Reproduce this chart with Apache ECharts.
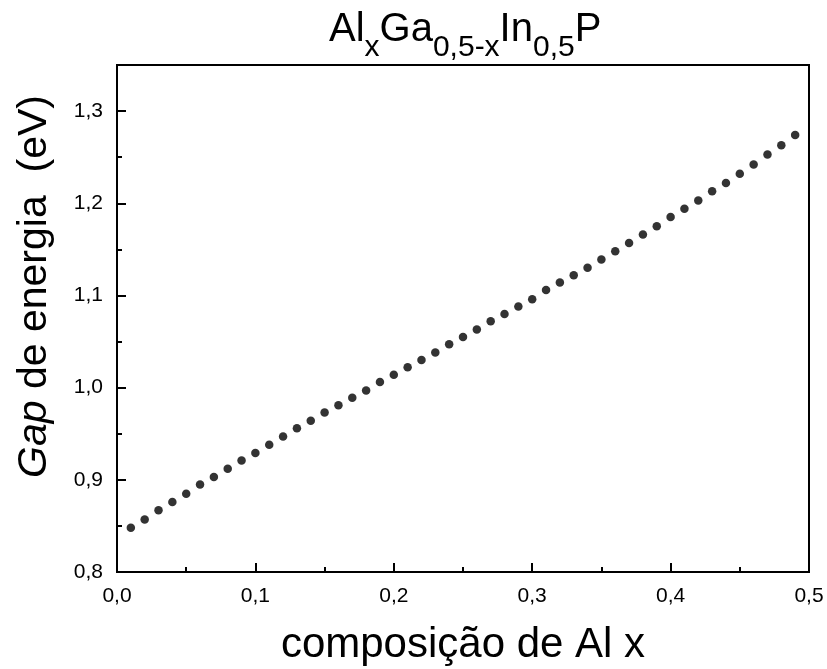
<!DOCTYPE html>
<html>
<head>
<meta charset="utf-8">
<script src="https://cdn.jsdelivr.net/npm/echarts@6/dist/echarts.min.js"></script>
<style>
  html, body { margin: 0; padding: 0; background: #fff; }
  #chart { width: 827px; height: 669px; }
</style>
</head>
<body>
<div id="chart"></div>
<script>
// Aluminium composition x of AlxGa(0.5-x)In0.5P
const composition = [
  0.01, 0.02, 0.03, 0.04, 0.05, 0.06, 0.07, 0.08, 0.09, 0.10,
  0.11, 0.12, 0.13, 0.14, 0.15, 0.16, 0.17, 0.18, 0.19, 0.20,
  0.21, 0.22, 0.23, 0.24, 0.25, 0.26, 0.27, 0.28, 0.29, 0.30,
  0.31, 0.32, 0.33, 0.34, 0.35, 0.36, 0.37, 0.38, 0.39, 0.40,
  0.41, 0.42, 0.43, 0.44, 0.45, 0.46, 0.47, 0.48, 0.49
];

// Energy gap (eV) for each composition
const energyGap = [
  0.848, 0.857, 0.867, 0.876, 0.885, 0.895, 0.903, 0.912, 0.921, 0.929,
  0.938, 0.947, 0.956, 0.964, 0.973, 0.981, 0.989, 0.997, 1.006, 1.014,
  1.022, 1.030, 1.038, 1.047, 1.055, 1.063, 1.072, 1.080, 1.088, 1.096,
  1.106, 1.114, 1.122, 1.130, 1.139, 1.148, 1.157, 1.166, 1.175, 1.185,
  1.194, 1.203, 1.213, 1.222, 1.232, 1.242, 1.253, 1.263, 1.274
];

// Axis tick values
const xTicks = [0.0, 0.1, 0.2, 0.3, 0.4, 0.5];
const yTicks = [0.8, 0.9, 1.0, 1.1, 1.2, 1.3];

const FONT = '"Liberation Sans", Arial, Helvetica, sans-serif';
const comma = v => v.toFixed(1).replace('.', ',');
const onTick = (list, v) => list.some(t => Math.abs(t - v) < 1e-9);

const chart = echarts.init(document.getElementById('chart'), null, { renderer: 'canvas' });

chart.setOption({
  backgroundColor: '#ffffff',
  animation: false,
  title: {
    text: '{m|Al}{s|x}{m|Ga}{s|0,5-x}{m|In}{s|0,5}{m|P}',
    left: 324,
    top: -8,
    textStyle: {
      fontWeight: 'normal',
      rich: {
        m: { fontFamily: FONT, fontSize: 40, fontWeight: 'normal', color: '#000', lineHeight: 66, verticalAlign: 'middle' },
        s: { fontFamily: FONT, fontSize: 30, fontWeight: 'normal', color: '#000', lineHeight: 30, verticalAlign: 'bottom' }
      }
    }
  },
  grid: {
    left: 117, right: 18, top: 65, bottom: 97,
    outerBoundsMode: 'none',
    containLabel: false,
    show: true,
    borderColor: '#000',
    borderWidth: 2,
    backgroundColor: 'transparent'
  },
  xAxis: {
    type: 'value',
    min: xTicks[0],
    max: xTicks[xTicks.length - 1],
    interval: 0.1,
    name: 'composição de Al x',
    nameLocation: 'middle',
    nameGap: 52,
    nameTextStyle: { fontFamily: FONT, fontSize: 42, color: '#000' },
    axisLine: { show: true, lineStyle: { color: '#000', width: 2 } },
    axisTick: { show: true, inside: true, length: 9, lineStyle: { color: '#000', width: 2 } },
    minorTick: { show: true, splitNumber: 2, length: 5, lineStyle: { color: '#000', width: 2 } },
    splitLine: { show: false },
    minorSplitLine: { show: false },
    axisLabel: {
      fontFamily: FONT, fontSize: 21, color: '#000', margin: 14,
      formatter: v => onTick(xTicks, v) ? comma(v) : ''
    }
  },
  yAxis: {
    type: 'value',
    min: yTicks[0],
    max: 1.35,
    interval: 0.1,
    name: '{i|Gap} de energia  (eV)',
    nameLocation: 'middle',
    nameGap: 62,
    nameRotate: 90,
    nameTextStyle: {
      fontFamily: FONT, fontSize: 41, color: '#000',
      padding: [0, 0, 0, 64],
      rich: {
        i: { fontFamily: FONT, fontSize: 41, fontStyle: 'italic', color: '#000' }
      }
    },
    axisLine: { show: true, lineStyle: { color: '#000', width: 2 } },
    axisTick: { show: true, inside: true, length: 9, lineStyle: { color: '#000', width: 2 } },
    minorTick: { show: true, splitNumber: 2, length: 5, lineStyle: { color: '#000', width: 2 } },
    splitLine: { show: false },
    minorSplitLine: { show: false },
    axisLabel: {
      fontFamily: FONT, fontSize: 21, color: '#000', margin: 14,
      showMaxLabel: false,
      formatter: v => onTick(yTicks, v) ? comma(v) : ''
    }
  },
  series: [{
    type: 'scatter',
    data: composition.map((x, i) => [x, energyGap[i]]),
    symbol: 'circle',
    symbolSize: 8.5,
    itemStyle: { color: '#000' },
    silent: true
  }]
});
</script>
</body>
</html>
